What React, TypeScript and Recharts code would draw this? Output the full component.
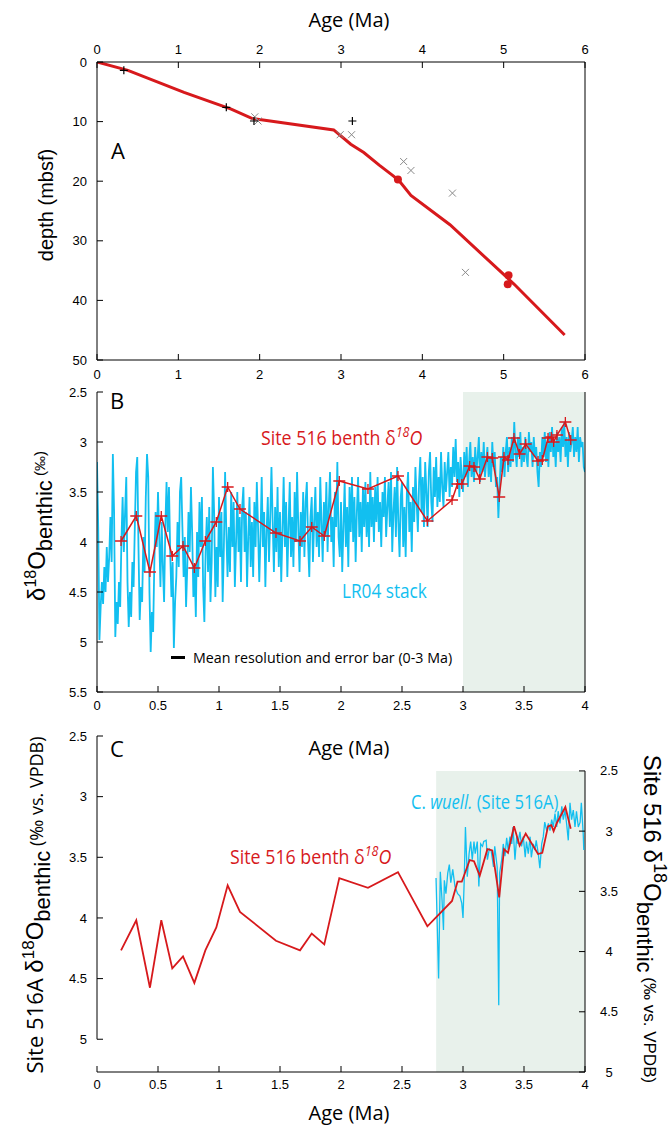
import React from "react";
import {
  ComposedChart,
  Line,
  Scatter,
  XAxis,
  YAxis,
  ReferenceArea,
  ReferenceLine,
} from "recharts";

const RED = "#d7191c";
const CYAN = "#12bff0";
const SHADE = "#e8f1eb";
const NARROW = "'Open Sans', 'Liberation Sans', sans-serif";
const HELV = "'Liberation Sans', Arial, sans-serif";

// ---- panel A: age model (age in Ma, depth in mbsf)
const modelAge = [0, 0.38, 1.07, 1.65, 1.91, 2.02, 2.91, 3.12, 3.28, 3.47, 3.65, 3.73, 3.86, 4.34, 5.02, 5.13, 5.75];
const modelDepth = [0, 1.4, 5.1, 7.9, 9.5, 9.7, 11.4, 13.8, 15.2, 17.3, 19.2, 20.2, 22.4, 27.3, 35.9, 37.3, 45.8];
const tieAge = [0.33, 1.59, 1.93, 3.14];
const tieDepth = [1.4, 7.6, 9.9, 9.9];
const bioAge = [1.94, 1.98, 2.99, 3.13, 3.77, 3.86, 4.37, 4.53];
const bioDepth = [9.2, 9.9, 12.2, 12.2, 16.7, 18.2, 22.0, 35.3];
const paleoAge = [3.7, 5.06, 5.05];
const paleoDepth = [19.7, 35.8, 37.3];

const ageTicksA = [0, 1, 2, 3, 4, 5, 6];
const depthTicks = [0, 10, 20, 30, 40, 50];
const ageTicksBC = [0, 0.5, 1, 1.5, 2, 2.5, 3, 3.5, 4];
const d18TicksB = [2.5, 3, 3.5, 4, 4.5, 5, 5.5];
const d18TicksC = [2.5, 3, 3.5, 4, 4.5, 5];

// ---- Site 516 benthic d18O
const site516Age = [0.197, 0.322, 0.434, 0.527, 0.617, 0.705, 0.798, 0.888, 0.978, 1.071, 1.172, 1.467, 1.664, 1.76, 1.863, 1.986, 2.221, 2.467, 2.708, 2.91, 2.955, 2.99, 3.055, 3.09, 3.137, 3.2, 3.24, 3.297, 3.336, 3.369, 3.418, 3.464, 3.514, 3.615, 3.65, 3.697, 3.724, 3.743, 3.77, 3.839, 3.883];
const site516D18 = [3.99, 3.74, 4.3, 3.74, 4.14, 4.04, 4.26, 3.99, 3.8, 3.45, 3.67, 3.91, 3.99, 3.85, 3.94, 3.39, 3.47, 3.34, 3.79, 3.58, 3.42, 3.42, 3.24, 3.25, 3.37, 3.15, 3.16, 3.55, 3.15, 3.18, 2.96, 3.12, 3.02, 3.19, 3.18, 2.96, 2.95, 3.0, 2.93, 2.8, 2.98];

// ---- LR04 stack, sampled every 0.01 Ma from 0 Ma
const lr04Step = 0.01;
const lr04D18 = [
  3.2, 3.85, 4.98, 4.65, 4.4, 4.62, 4.25, 4.5, 4.05, 4.4,
  4.15, 3.75, 4.2, 3.12, 3.7, 4.95, 4.6, 4.82, 4.4, 4.65,
  4.0, 3.55, 4.1, 3.7, 3.35, 4.4, 4.85, 4.5, 4.75, 4.2,
  4.45, 3.85, 3.3, 3.15, 4.05, 4.78, 4.45, 4.6, 3.95, 4.3,
  3.55, 3.12, 3.35, 4.5, 5.1, 4.7, 4.9, 4.2, 3.7, 4.05,
  3.5, 3.95, 4.45, 3.8, 4.25, 4.6, 3.85, 3.4, 3.9, 3.45,
  4.1, 4.55, 4.2, 5.06, 4.6, 4.35, 3.8, 4.25, 3.5, 3.35,
  3.85, 4.35, 3.95, 4.65, 4.25, 3.7, 4.1, 3.45, 3.9, 4.55,
  4.25, 4.75, 3.9, 4.35, 3.6, 4.05, 3.55, 4.45, 4.8, 4.1,
  3.75, 4.3, 3.65, 4.6, 4.2, 3.25, 3.7, 4.55, 4.05, 4.45,
  3.55, 4.15, 3.7, 4.6, 4.05, 3.3, 3.9, 4.35, 3.85, 4.3,
  3.5, 4.05, 3.6, 4.45, 4.0, 3.5, 4.1, 3.75, 4.4, 3.65,
  3.45, 4.1, 3.7, 4.45, 3.95, 3.55, 4.25, 3.8, 4.35, 3.6,
  4.05, 3.4, 3.85, 4.4, 3.95, 3.35, 4.05, 3.7, 4.45, 3.9,
  3.55, 4.2, 3.75, 3.25, 3.8, 4.3, 3.65, 4.1, 3.45, 4.25,
  3.7, 4.4, 3.9, 3.35, 4.05, 3.6, 4.35, 3.85, 3.4, 4.15,
  3.75, 4.25, 3.5, 4.0, 3.3, 3.85, 4.3, 3.7, 4.05, 3.5,
  4.15, 3.6, 3.4, 4.0, 4.35, 3.75, 3.55, 4.2, 3.8, 3.45,
  4.05, 3.7, 4.15, 3.35, 3.8, 4.2, 3.6, 3.95, 3.4, 4.1,
  3.65, 3.3, 4.0, 3.75, 4.25, 3.5, 3.85, 3.2, 3.95, 4.15,
  3.6, 4.3, 3.85, 3.4, 4.05, 3.65, 4.25, 3.45, 3.9, 3.35,
  4.0, 3.55, 4.2, 3.7, 3.35, 3.95, 3.6, 4.1, 3.45, 3.85,
  3.4, 3.95, 3.6, 4.05, 3.3, 3.85, 3.55, 4.0, 3.45, 3.8,
  3.35, 3.9, 3.6, 4.05, 3.5, 3.75, 3.35, 3.95, 3.65, 3.4,
  3.85, 3.3, 4.1, 3.7, 3.45, 3.95, 3.25, 3.8, 4.15, 3.55,
  3.4, 4.05, 3.65, 4.15, 3.5, 3.3, 3.9, 3.6, 4.1, 3.45,
  3.8, 3.25, 3.6, 3.9, 3.4, 3.15, 3.7, 3.35, 3.85, 3.2,
  3.5, 3.85, 3.3, 3.1, 3.6, 3.8, 3.25, 3.55, 3.15, 3.65,
  3.35, 3.6, 3.1, 3.45, 3.65, 3.2, 3.5, 3.3, 3.1, 3.55,
  3.25, 3.45, 3.05, 3.35, 2.97, 3.4, 3.2, 3.55, 3.15, 3.35,
  3.5, 3.1, 3.35, 3.05, 3.45, 3.2, 3.0, 3.35, 3.15, 3.4,
  3.05, 3.3, 3.15, 2.95, 3.4, 3.1, 3.3, 3.0, 3.35, 3.2,
  3.05, 3.35, 3.15, 3.4, 3.0, 3.25, 3.1, 3.45, 3.35, 3.76,
  3.45, 3.15, 3.3, 3.05, 3.35, 3.1, 2.95, 3.3, 3.05, 3.25,
  2.95, 3.2, 2.8, 3.1, 3.25, 2.95, 3.15, 2.9, 3.25, 3.05,
  3.2, 2.95, 3.15, 3.25, 2.9, 3.1, 3.0, 3.25, 2.95, 3.15,
  3.05, 3.3, 3.45, 3.1, 3.25, 2.95, 3.15, 2.9, 3.2, 3.0,
  3.25, 2.9, 3.1, 2.85, 3.15, 3.0, 3.25, 2.9, 3.1, 2.95,
  3.2, 2.85, 3.05, 2.8, 3.15, 2.95, 3.25, 2.9, 3.1, 3.0,
  2.85, 3.15, 2.95, 3.1, 2.85, 3.2, 2.95, 3.05, 3.0, 3.25,
  3.3,
];

// ---- C. wuellerstorfi, Site 516A
const wuellAge = [2.779, 2.8, 2.814, 2.828, 2.84, 2.847, 2.86, 2.875, 2.888, 2.9, 2.916, 2.934, 2.956, 2.975, 2.99, 3.0, 3.01, 3.02, 3.035, 3.05, 3.063, 3.076, 3.09, 3.1, 3.117, 3.13, 3.145, 3.16, 3.17, 3.19, 3.2, 3.216, 3.23, 3.25, 3.26, 3.28, 3.293, 3.3, 3.317, 3.33, 3.344, 3.358, 3.37, 3.385, 3.4, 3.41, 3.426, 3.44, 3.45, 3.467, 3.48, 3.494, 3.51, 3.52, 3.535, 3.55, 3.56, 3.576, 3.59, 3.6, 3.617, 3.63, 3.645, 3.658, 3.67, 3.686, 3.7, 3.713, 3.727, 3.74, 3.754, 3.768, 3.78, 3.795, 3.81, 3.822, 3.836, 3.85, 3.863, 3.877, 3.89, 3.904, 3.918, 3.93, 3.945, 3.96, 3.97, 3.985, 3.99];
const wuellD18 = [3.67, 4.5, 3.62, 3.85, 4.1, 3.69, 3.8, 3.63, 3.56, 3.71, 3.6, 3.74, 3.8, 3.82, 3.88, 4.0, 3.69, 3.25, 3.66, 3.47, 3.37, 3.52, 3.37, 3.47, 3.37, 3.74, 3.39, 3.41, 3.37, 3.36, 3.52, 3.43, 3.44, 3.58, 3.41, 3.58, 4.72, 3.63, 3.52, 3.39, 3.49, 3.34, 3.44, 3.33, 3.39, 3.25, 3.52, 3.33, 3.39, 3.29, 3.41, 3.33, 3.5, 3.37, 3.47, 3.33, 3.5, 3.39, 3.44, 3.36, 3.47, 3.59, 3.39, 3.33, 3.21, 3.28, 3.22, 3.28, 3.19, 3.25, 3.14, 3.25, 3.12, 3.22, 3.08, 3.19, 3.11, 3.23, 3.36, 3.05, 3.19, 3.11, 3.25, 3.12, 3.25, 3.21, 3.05, 3.3, 3.44];

const zip = (xs: number[], ys: number[], key: string) => xs.map((x, i) => ({ age: x, [key]: ys[i] }));

const modelRows = zip(modelAge, modelDepth, "depth");
const tieRows = zip(tieAge, tieDepth, "depth");
const bioRows = zip(bioAge, bioDepth, "depth");
const paleoRows = zip(paleoAge, paleoDepth, "depth");
const site516Rows = zip(site516Age, site516D18, "d18");
const lr04Rows = lr04D18.map((v, i) => ({ age: +(i * lr04Step).toFixed(2), d18: v }));
const wuellRows = zip(wuellAge, wuellD18, "d18");

const tickFont = { fontSize: 13, fill: "#000", fontFamily: HELV };

const plusShape = (p: any) => (
  <path d={`M${p.cx - 4},${p.cy}h8M${p.cx},${p.cy - 4}v8`} stroke="#000" strokeWidth={1.2} fill="none" />
);
const crossShape = (p: any) => (
  <path d={`M${p.cx - 3.5},${p.cy - 3.5}l7,7M${p.cx - 3.5},${p.cy + 3.5}l7,-7`} stroke="#8a8a8a" strokeWidth={1} fill="none" />
);
const dotShape = (p: any) => <circle cx={p.cx} cy={p.cy} r={4} fill={RED} />;

const errDot = (p: any) => (
  <path
    key={`e${p.index}`}
    d={`M${p.cx - 6},${p.cy}h12M${p.cx},${p.cy - 5}v10`}
    stroke={RED}
    strokeWidth={1.3}
    fill="none"
  />
);

const RightTick = (p: any) => (
  <text x={609} y={p.y} textAnchor="middle" dominantBaseline="central" fontSize={13} fontFamily={HELV} fill="#000">
    {p.payload.value}
  </text>
);

function T({
  x,
  y,
  size = 20,
  color = "#000",
  family = NARROW,
  anchor = "middle",
  rotate = 0,
  sx = 1,
  children,
}: {
  x: number;
  y: number;
  size?: number;
  color?: string;
  family?: string;
  anchor?: "start" | "middle";
  rotate?: number;
  sx?: number;
  children: React.ReactNode;
}) {
  const tx = anchor === "middle" ? "-50%" : "0";
  return (
    <div
      style={{
        position: "absolute",
        left: x,
        top: y,
        transform: `translate(${tx},-50%) rotate(${rotate}deg) scale(${sx},1)`,
        transformOrigin: anchor === "middle" ? "50% 50%" : "0 50%",
        fontSize: size,
        color,
        fontFamily: family,
        whiteSpace: "nowrap",
        lineHeight: 1,
      }}
    >
      {children}
    </div>
  );
}

const sup = (s: string, size: number, italic = false) => (
  <span style={{ fontSize: size, position: "relative", top: "-0.55em", fontStyle: italic ? "italic" : "normal" }}>{s}</span>
);
const sub = (s: string, size: number) => (
  <span style={{ fontSize: size, position: "relative", top: "0.3em" }}>{s}</span>
);

export default function App() {
  return (
    <div style={{ position: "absolute", left: 0, top: 0, width: 670, height: 1125, background: "#fff", overflow: "hidden" }}>
      {/* A */}
      <div style={{ position: "absolute", left: 0, top: 0 }}>
        <ComposedChart width={670} height={380} margin={{ top: 32, right: 75, bottom: 0, left: 57 }}>
          <XAxis xAxisId="b" type="number" dataKey="age" domain={[0, 6]} ticks={ageTicksA} height={20}
            tickSize={-6} tickMargin={16} stroke="#000" tick={tickFont} allowDataOverflow />
          <XAxis xAxisId="t" orientation="top" type="number" dataKey="age" domain={[0, 6]} ticks={ageTicksA} height={30}
            tickSize={-6} tickMargin={14} stroke="#000" tick={tickFont} allowDataOverflow />
          <YAxis yAxisId="l" type="number" domain={[0, 50]} reversed ticks={depthTicks} width={40}
            tickSize={-6} tickMargin={16} stroke="#000" tick={tickFont} allowDataOverflow />
          <YAxis yAxisId="r" orientation="right" type="number" domain={[0, 50]} reversed ticks={depthTicks} width={10}
            tickSize={-6} tick={false} stroke="#000" allowDataOverflow />
          <Line xAxisId="b" yAxisId="l" data={modelRows} dataKey="depth" stroke={RED} strokeWidth={3}
            dot={false} isAnimationActive={false} />
          <Scatter xAxisId="b" yAxisId="l" data={bioRows} dataKey="depth" shape={crossShape} isAnimationActive={false} />
          <Scatter xAxisId="b" yAxisId="l" data={tieRows} dataKey="depth" shape={plusShape} isAnimationActive={false} />
          <Scatter xAxisId="b" yAxisId="l" data={paleoRows} dataKey="depth" shape={dotShape} isAnimationActive={false} />
        </ComposedChart>
      </div>

      {/* B */}
      <div style={{ position: "absolute", left: 0, top: 379, background: "#fff" }}>
        <ComposedChart width={670} height={336} margin={{ top: 13, right: 75, bottom: 3, left: 57 }}>
          <XAxis type="number" dataKey="age" domain={[0, 4]} ticks={ageTicksBC} height={20}
            tickSize={-6} tickMargin={15} stroke="#000" tick={tickFont} allowDataOverflow />
          <YAxis type="number" domain={[2.5, 5.5]} reversed ticks={d18TicksB} width={40}
            tickSize={-6} tickMargin={16} stroke="#000" tick={tickFont} allowDataOverflow />
          <YAxis yAxisId="r" orientation="right" type="number" domain={[2.5, 5.5]} reversed ticks={d18TicksB} width={10}
            tickSize={-6} tick={false} stroke="#000" allowDataOverflow />
          <ReferenceArea x1={3} x2={4} fill={SHADE} fillOpacity={1} stroke="none" />
          <Line data={lr04Rows} dataKey="d18" stroke={CYAN} strokeWidth={1.8} dot={false} isAnimationActive={false} />
          <Line data={site516Rows} dataKey="d18" stroke={RED} strokeWidth={1.5} dot={errDot} isAnimationActive={false} />
        </ComposedChart>
      </div>

      {/* C */}
      <div style={{ position: "absolute", left: 0, top: 715 }}>
        <ComposedChart width={670} height={410} margin={{ top: 21, right: 45, bottom: 33, left: 57 }}>
          <XAxis type="number" dataKey="age" domain={[0, 4]} ticks={ageTicksBC} height={20}
            tickSize={-6} tickMargin={14} stroke="#000" tick={tickFont} allowDataOverflow />
          <YAxis yAxisId="l" type="number" domain={[2.5, 5.27]} reversed ticks={d18TicksC} width={40} axisLine={false}
            tickSize={-6} tickMargin={16} stroke="#000" tick={tickFont} allowDataOverflow />
          <YAxis yAxisId="r" orientation="right" type="number" domain={[2.21, 5]} reversed ticks={d18TicksC} width={40}
            axisLine={false} tickSize={-6} tick={RightTick} stroke="#000" allowDataOverflow />
          <ReferenceArea yAxisId="r" x1={2.78} x2={4} y1={2.5} y2={5} fill={SHADE} fillOpacity={1} stroke="none" />
          <ReferenceLine yAxisId="l" segment={[{ x: 0, y: 2.5 }, { x: 0, y: 5 }]} stroke="#000" ifOverflow="visible" />
          <ReferenceLine yAxisId="r" segment={[{ x: 4, y: 2.5 }, { x: 4, y: 5 }]} stroke="#000" ifOverflow="visible" />
          <Line yAxisId="l" data={wuellRows} dataKey="d18" stroke={CYAN} strokeWidth={1.3} dot={false} isAnimationActive={false} />
          <Line yAxisId="r" data={site516Rows} dataKey="d18" stroke={RED} strokeWidth={1.8} dot={false} isAnimationActive={false} />
        </ComposedChart>
      </div>

      {/* titles and labels */}
      <T x={349} y={20}>Age (Ma)</T>
      <T x={118} y={150} size={22}>A</T>
      <T x={46} y={205} size={20} family={HELV} rotate={-90}>depth (mbsf)</T>

      <T x={37} y={526} family={HELV} size={24} rotate={-90}>
        δ{sup("18", 16)}O{sub("benthic", 22)}
        <span style={{ fontSize: 15 }}> (‰)</span>
      </T>
      <T x={117} y={400} size={22}>B</T>
      <T x={261} y={438} anchor="start" color={RED} sx={0.89}>
        Site 516 benth δ{sup("18", 14, true)}
        <i>O</i>
      </T>
      <T x={342} y={591} anchor="start" color={CYAN} sx={0.86}>LR04 stack</T>
      <div style={{ position: "absolute", left: 171, top: 656, width: 14, height: 2.5, background: "#000" }} />
      <T x={193} y={657} anchor="start" size={15} sx={0.95}>Mean resolution and error bar (0-3 Ma)</T>

      <T x={117} y={748} size={22}>C</T>
      <T x={349} y={748}>Age (Ma)</T>
      <T x={349} y={1113}>Age (Ma)</T>
      <T x={230} y={857} anchor="start" color={RED} sx={0.89}>
        Site 516 benth δ{sup("18", 14, true)}
        <i>O</i>
      </T>
      <T x={411} y={802} anchor="start" color={CYAN} sx={0.83}>
        C. <i>wuell.</i> (Site 516A)
      </T>
      <T x={35} y={905} rotate={-90} size={22}>
        Site 516A{" "}
        <span style={{ fontFamily: HELV, fontSize: 24 }}>
          δ{sup("18", 17)}O{sub("benthic", 22)}
        </span>
        <span style={{ fontSize: 18 }}> (‰ vs. VPDB)</span>
      </T>
      <T x={652} y={919} rotate={90} size={24} family={HELV}>
        Site 516 δ{sup("18", 18)}O{sub("benthic", 22)}
        <span style={{ fontSize: 17 }}> (‰ vs. VPDB)</span>
      </T>
    </div>
  );
}
